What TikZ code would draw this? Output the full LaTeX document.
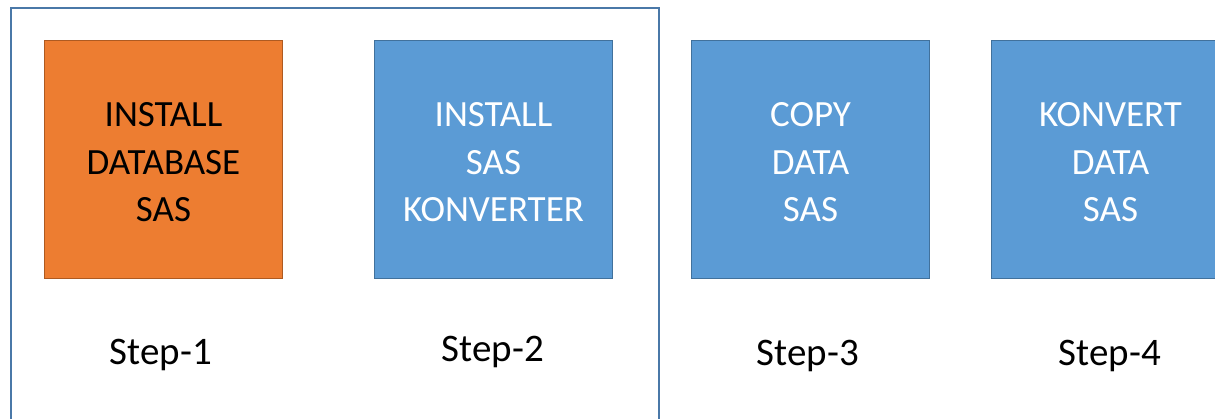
\documentclass[tikz,border=0pt]{standalone}
\usepackage{fontspec}
\setmainfont{Carlito}
\definecolor{orfill}{HTML}{ED7D31}
\definecolor{ordraw}{HTML}{AE5A21}
\definecolor{blfill}{HTML}{5B9BD5}
\definecolor{bldraw}{HTML}{41719C}
\definecolor{framec}{HTML}{4A78A8}
\tikzset{
  box/.style={rectangle, minimum width=238pt, minimum height=238pt, line width=1.5pt, inner sep=0pt},
  orbox/.style={box, fill=orfill, draw=ordraw},
  blbox/.style={box, fill=blfill, draw=bldraw},
  boxtext/.style={align=center, inner sep=0pt, yshift=-3pt, font=\fontsize{37}{47.5}\selectfont},
  steplabel/.style={anchor=base, inner sep=0pt, font=\fontsize{39}{47}\selectfont},
}
\begin{document}
\begin{tikzpicture}[x=1pt,y=-1pt]
\useasboundingbox (0,0) rectangle (1215,419);
\clip (0,0) rectangle (1215,419);
\fill[white] (0,0) rectangle (1215,419);
\draw[framec, line width=2pt] (11,440) -- (11,8) -- (659,8) -- (659,440);
\node[orbox] (b1) at (163.5,159.5) {};
\node[blbox] (b2) at (493.5,159.5) {};
\node[blbox] (b3) at (810.5,159.5) {};
\node[blbox] (b4) at (1110.5,159.5) {};
\node[boxtext, text=black] (t1) at (b1.center) {INSTALL\\DATABASE\\SAS};
\node[boxtext, text=white] (t2) at (b2.center) {INSTALL\\SAS\\KONVERTER};
\node[boxtext, text=white] (t3) at (b3.center) {COPY\\DATA\\SAS};
\node[boxtext, text=white] (t4) at (b4.center) {KONVERT\\DATA\\SAS};
\node[steplabel] (s1) at (161,365) {Step-1};
\node[steplabel] (s2) at (493,362) {Step-2};
\node[steplabel] (s3) at (808,366) {Step-3};
\node[steplabel] (s4) at (1110,366) {Step-4};
\end{tikzpicture}
\end{document}
